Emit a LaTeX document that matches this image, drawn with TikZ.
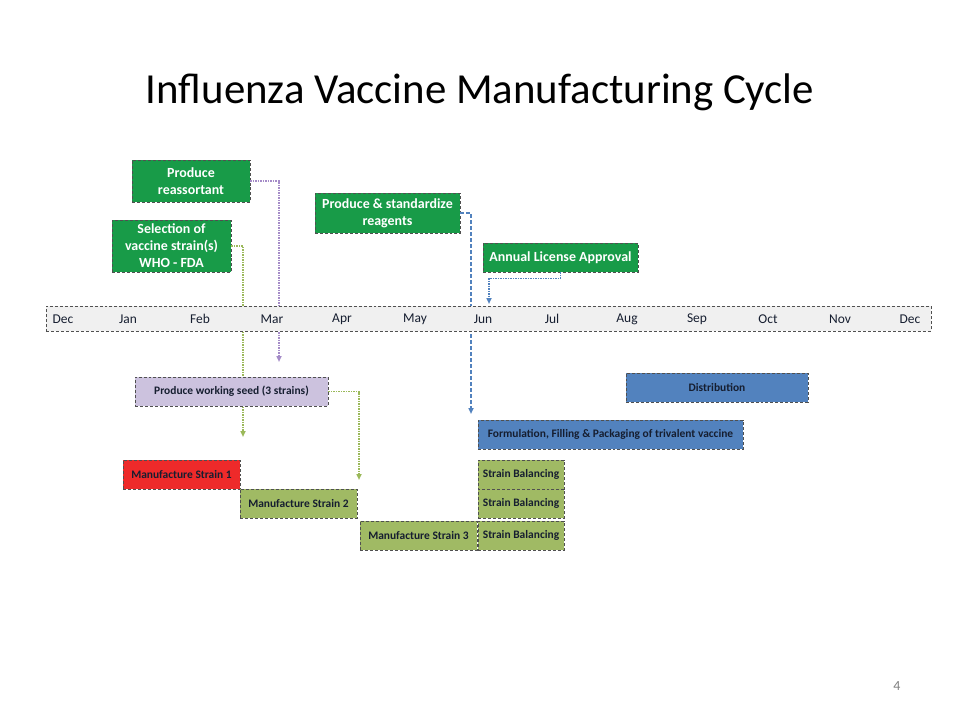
\documentclass[tikz,border=0pt]{standalone}
\usepackage{fontspec}
\setmainfont{Carlito}
\usetikzlibrary{arrows.meta}
\definecolor{vgreen}{RGB}{24,155,72}
\definecolor{volive}{RGB}{160,186,100}
\definecolor{vblue}{RGB}{82,130,190}
\definecolor{vlav}{RGB}{204,194,222}
\definecolor{vred}{RGB}{238,42,42}
\definecolor{vtl}{RGB}{240,240,240}
\definecolor{vtxt}{RGB}{22,30,48}
\definecolor{vborder}{RGB}{80,80,80}
\definecolor{cpurple}{RGB}{165,140,200}
\definecolor{colive}{RGB}{155,185,90}
\tikzset{
  box/.style={rectangle, draw=vborder, densely dashed, line width=0.7bp, inner sep=0pt, align=center, font=\bfseries\fontsize{11.5}{13.5}\selectfont, text=vtxt},
  gbox/.style={box, fill=vgreen, text=white, font=\bfseries\fontsize{14}{17}\selectfont},
  obox/.style={box, fill=volive},
  bbox/.style={box, fill=vblue},
  month/.style={font=\fontsize{13.5}{16}\selectfont, text=vtxt, inner sep=0pt},
  conn/.style={line width=1.5bp, densely dotted, -{Triangle[length=6bp,width=5bp]}},
}
\begin{document}
\begin{tikzpicture}[x=1bp,y=-1bp]
\useasboundingbox (0,0) rectangle (960,720);
\node[font=\fontsize{43}{50}\selectfont, text=black] (title) at (480,92) {Influenza Vaccine Manufacturing Cycle};
% connector end points
\coordinate (a1) at (279,362);
\coordinate (a2) at (243,437);
\coordinate (a3) at (359,480);
\coordinate (a4) at (471,414);
\coordinate (a5) at (489,304);
% boxes
\node[gbox, minimum width=118bp, minimum height=42bp] (reass) at (191,181) {Produce\\reassortant};
\node[gbox, minimum width=119bp, minimum height=52bp] (sel) at (171.5,246) {Selection of\\vaccine strain(s)\\WHO - FDA};
\node[gbox, minimum width=145bp, minimum height=40bp] (reag) at (387.5,213) {Produce \& standardize\\reagents};
\node[gbox, minimum width=155bp, minimum height=29bp] (lic) at (560.5,257.5) {Annual License Approval};
\draw[conn, color=cpurple] (reass.east) -| (a1);
\draw[conn, color=colive] (sel.east) -| (a2);
\draw[conn, color=vblue, dash pattern=on 4bp off 2bp] (reag.east) -| (a4);
\draw[conn, color=vblue] (lic.south) -- ++(0,6) -| (a5);
% timeline
\node[box, fill=vtl, minimum width=885bp, minimum height=25bp] (tl) at (488.5,318.5) {};
\node[month] (m0) at (63,319) {Dec};
\node[month] (m1) at (128,319) {Jan};
\node[month] (m2) at (200,319) {Feb};
\node[month] (m3) at (272,319) {Mar};
\node[month] (m4) at (342,319) {Apr};
\node[month] (m5) at (415,319) {May};
\node[month] (m6) at (483,319) {Jun};
\node[month] (m7) at (552,319) {Jul};
\node[month] (m8) at (627,319) {Aug};
\node[month] (m9) at (697,319) {Sep};
\node[month] (m10) at (768,319) {Oct};
\node[month] (m11) at (840,319) {Nov};
\node[month] (m12) at (910,319) {Dec};
% lower boxes
\node[box, fill=vlav, minimum width=193bp, minimum height=29bp] (seed) at (231.5,391.5) {Produce working seed (3 strains)};
\draw[conn, color=colive] (seed.east) -| (a3);
\node[box, fill=vred, minimum width=117bp, minimum height=29bp] (m1s) at (181.5,474.5) {Manufacture Strain 1};
\node[obox, minimum width=117bp, minimum height=29bp] (m2s) at (298.5,503.5) {Manufacture Strain 2};
\node[obox, minimum width=117bp, minimum height=29bp] (m3s) at (418.5,535.5) {Manufacture Strain 3};
\node[obox, minimum width=86bp, minimum height=29bp] (sb1) at (521,474.5) {Strain Balancing};
\node[obox, minimum width=86bp, minimum height=29bp] (sb2) at (521,503.5) {Strain Balancing};
\node[obox, minimum width=86bp, minimum height=29bp] (sb3) at (521,535.5) {Strain Balancing};
\node[bbox, minimum width=265bp, minimum height=29bp] (form) at (610.5,434.5) {Formulation, Filling \& Packaging of trivalent vaccine};
\node[bbox, minimum width=182bp, minimum height=29bp] (dist) at (717,387.5) {Distribution};
\node[font=\fontsize{14}{16}\selectfont, text=gray] (pg) at (897,686) {4};
\end{tikzpicture}
\end{document}
